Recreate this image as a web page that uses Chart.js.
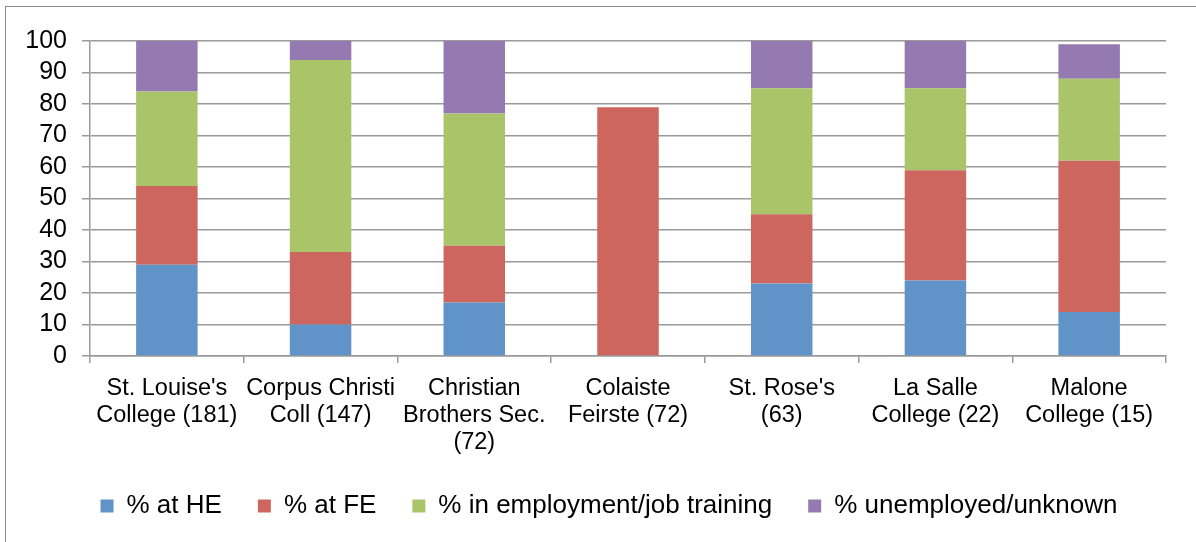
<!DOCTYPE html>
<html lang="en">
<head>
    <meta charset="UTF-8">
    <title>Destinations of leavers by school</title>
    <script src="https://cdn.jsdelivr.net/npm/chart.js@4.4.1/dist/chart.umd.min.js"></script>
    <style>
        body {
            margin: 0;
            background-color: #ffffff;
        }
        .frame {
            position: absolute;
            left: 5px;
            top: 6px;
            width: 1300px;
            height: 600px;
            border-left: 1px solid #8a8a8a;
            border-top: 1px solid #8a8a8a;
        }
        .chart-wrapper {
            position: absolute;
            left: 0;
            top: 0;
            width: 1196px;
            height: 542px;
        }
    </style>
</head>
<body>
    <div class="frame"></div>
    <div class="chart-wrapper">
        <canvas id="dest-chart"></canvas>
    </div>

    <script>
        // Schools (with number of leavers)
        const schools = [
            ["St. Louise's", 'College (181)'],
            ['Corpus Christi', 'Coll (147)'],
            ['Christian', 'Brothers Sec.', '(72)'],
            ['Colaiste', 'Feirste (72)'],
            ["St. Rose's", '(63)'],
            ['La Salle', 'College (22)'],
            ['Malone', 'College (15)']
        ];

        // Percentages per destination
        const atHE = [29, 10, 17, 0, 23, 24, 14];
        const atFE = [25, 23, 18, 79, 22, 35, 48];
        const inEmployment = [30, 61, 42, 0, 40, 26, 26];
        const unemployed = [16, 6, 23, 0, 15, 15, 11];

        const yTicks = [0, 10, 20, 30, 40, 50, 60, 70, 80, 90, 100];

        const gridGrey = '#9a9a9a';
        const fontFamily = 'Liberation Sans, Arial, sans-serif';
        const axisLeft = 20;

        // legend in the original sits a bit right of the canvas centre
        const legendShift = {
            id: 'legendShift',
            afterLayout(chart) {
                chart.legend.left += 16;
                chart.legend.right += 16;
            }
        };

        const chartData = {
            labels: schools,
            datasets: [
                { label: '% at HE', data: atHE, backgroundColor: '#6094c8' },
                { label: '% at FE', data: atFE, backgroundColor: '#cd665f' },
                { label: '% in employment/job training', data: inEmployment, backgroundColor: '#aac46a' },
                { label: '% unemployed/unknown', data: unemployed, backgroundColor: '#947ab0' }
            ]
        };

        const chartOptions = {
            responsive: true,
            maintainAspectRatio: false,
            animation: false,
            datasets: {
                bar: {
                    categoryPercentage: 1,
                    barPercentage: 0.4,
                    borderWidth: 0
                }
            },
            layout: {
                padding: { left: axisLeft, right: 30, top: 41, bottom: 13 }
            },
            plugins: {
                tooltip: { enabled: false },
                legend: {
                    position: 'bottom',
                    labels: {
                        color: '#000',
                        boxWidth: 13,
                        boxHeight: 13,
                        padding: 36,
                        font: { family: fontFamily, size: 26 }
                    }
                }
            },
            scales: {
                x: {
                    stacked: true,
                    grid: {
                        offset: true,
                        drawOnChartArea: false,
                        color: gridGrey,
                        lineWidth: 1.5,
                        tickLength: 7
                    },
                    border: { color: gridGrey, width: 1.5 },
                    ticks: {
                        color: '#000',
                        padding: 12,
                        maxRotation: 0,
                        autoSkip: false,
                        font: { family: fontFamily, size: 23.5, lineHeight: 1.15 }
                    },
                    afterFit: (scale) => { scale.height = 101; }
                },
                y: {
                    stacked: true,
                    min: 0,
                    max: 100,
                    grid: {
                        color: gridGrey,
                        lineWidth: 1.5,
                        tickLength: 8
                    },
                    border: { color: gridGrey, width: 1.5 },
                    ticks: {
                        color: '#000',
                        padding: 15,
                        autoSkip: false,
                        font: { family: fontFamily, size: 25 }
                    },
                    afterBuildTicks: (scale) => {
                        scale.ticks = yTicks.map(v => ({ value: v }));
                    },
                    afterFit: (scale) => { scale.width = 90 - axisLeft; }
                }
            }
        };

        new Chart(document.getElementById('dest-chart'), {
            type: 'bar',
            data: chartData,
            options: chartOptions,
            plugins: [legendShift]
        });
    </script>
</body>
</html>
